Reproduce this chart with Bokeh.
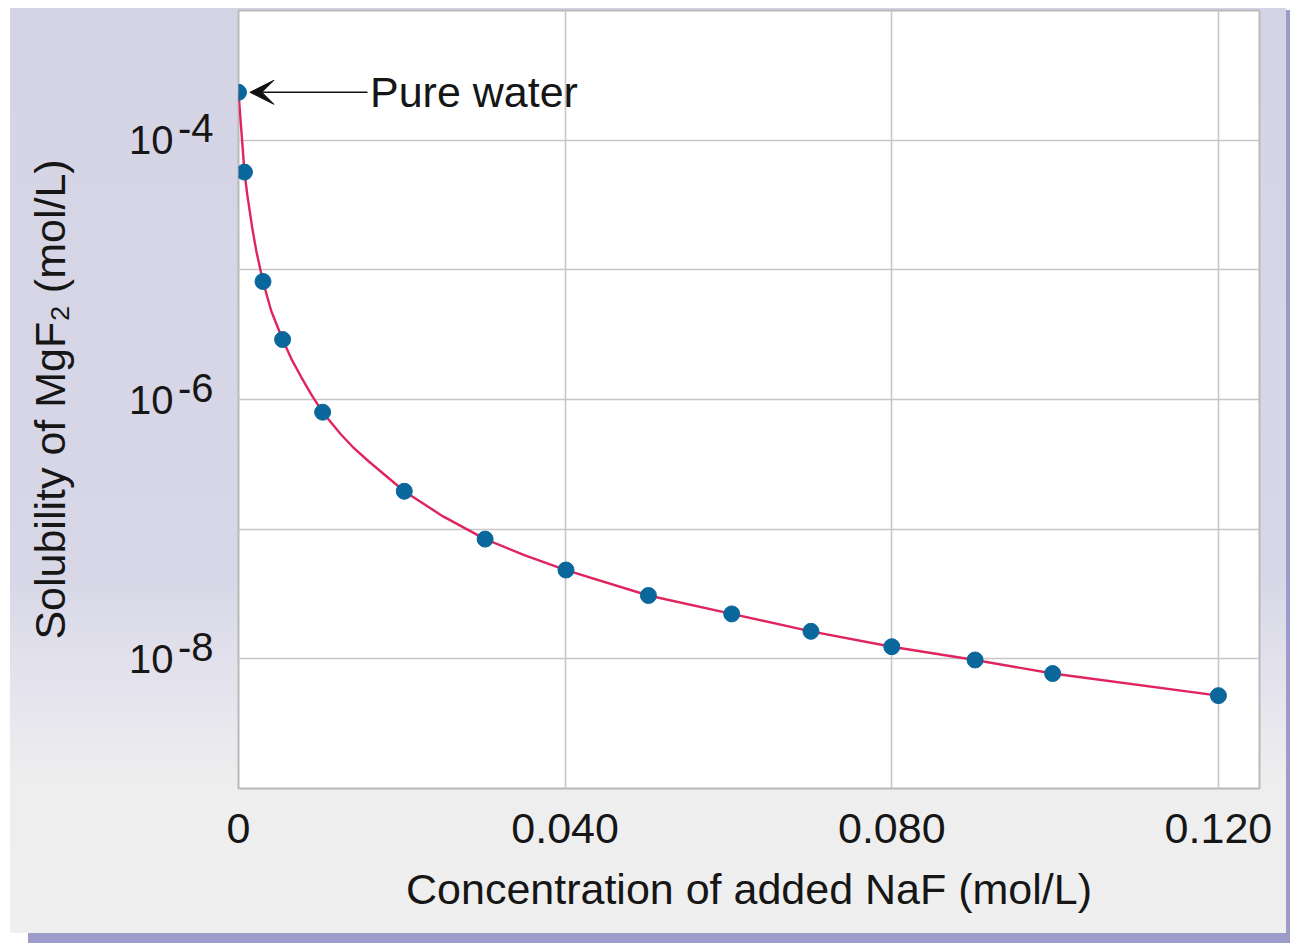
from bokeh.plotting import figure
from bokeh.models import (Range1d, FixedTicker, CustomJSTickFormatter, Label,
                          Arrow, VeeHead, LogAxis, LogScale)
from bokeh.embed import file_html
from bokeh.resources import INLINE

# ---- data ----
naf_conc = [0.0, 0.00073, 0.0030, 0.0054, 0.0103, 0.0203, 0.0302, 0.0401,
            0.0502, 0.0604, 0.0701, 0.0800, 0.0902, 0.0997, 0.1200]
solubility = [2.34e-4, 5.67e-5, 8.13e-6, 2.90e-6, 7.98e-7, 1.96e-7, 8.38e-8,
              4.84e-8, 3.08e-8, 2.22e-8, 1.63e-8, 1.24e-8, 9.8e-9, 7.7e-9,
              5.2e-9]

# smooth red curve (dots plus in-between readings)
curve_x = [0.0, 0.00073, 0.00107, 0.00168, 0.0022, 0.0030, 0.0040, 0.0054,
           0.0065, 0.00768, 0.0090, 0.0103, 0.0125, 0.0140, 0.0160, 0.0203,
           0.0250, 0.0302, 0.0350, 0.0401, 0.0502, 0.0604, 0.0701, 0.0800,
           0.0902, 0.0997, 0.1200]
curve_y = [2.34e-4, 5.67e-5, 3.82e-5, 2.11e-5, 1.38e-5, 8.13e-6, 4.84e-6,
           2.90e-6, 2.04e-6, 1.49e-6, 1.07e-6, 7.98e-7, 5.42e-7, 4.3e-7,
           3.31e-7, 1.96e-7, 1.26e-7, 8.38e-8, 6.3e-8, 4.84e-8, 3.08e-8,
           2.22e-8, 1.63e-8, 1.24e-8, 9.8e-9, 7.7e-9, 5.2e-9]

x_ticks = [0.0, 0.04, 0.08, 0.12]
y_grid = [1e-9, 1e-8, 1e-7, 1e-6, 1e-5, 1e-4, 1e-3]
y_label_ticks = [1e-8, 1e-6, 1e-4]

annotation_text = "Pure water"
arrow_x_start = 0.0158
arrow_x_end = 0.0014
text_x = 0.0161

FONT = "Liberation Sans"
TXT = "#161616"

Y_LO, Y_HI = 1e-9, 1e-3
# superscript axis: same decades, drawn 12 px higher (frame 778 px / 6 decades)
SUP_SHIFT = 10 ** (-12 / (778 / 6))

p = figure(width=1286, height=933,
           x_range=Range1d(0, 0.12503), y_range=Range1d(Y_LO, Y_HI),
           y_axis_type="log", output_backend="svg", toolbar_location=None,
           min_border_left=238, min_border_right=27,
           min_border_top=10, min_border_bottom=145)

p.border_fill_color = None
p.background_fill_color = "white"
p.outline_line_color = "#b9b9b9"
p.outline_line_width = 2
p.styles = {
    "background": "linear-gradient(to right, #ffffff 0px, #ffffff 10px, "
                  "rgba(255,255,255,0) 10px), "
                  "linear-gradient(to bottom, #ffffff 0px, #ffffff 8px, "
                  "rgba(255,255,255,0) 8px), "
                  "linear-gradient(to bottom, #d5d4e5 0%, #d8d7e7 62%, "
                  "#e6e5ee 75%, #eeeeee 84%, #efefef 100%)",
    "box-shadow": "28px 10px 0 0 #9d9bca",
}

# grids
p.xgrid.ticker = FixedTicker(ticks=x_ticks)
p.ygrid.ticker = FixedTicker(ticks=y_grid)
for g in (p.xgrid, p.ygrid):
    g.grid_line_color = "#c6c6c6"
    g.grid_line_width = 1.6

# x axis
xa = p.xaxis[0]
xa.ticker = FixedTicker(ticks=x_ticks)
xa.formatter = CustomJSTickFormatter(
    code="return tick == 0 ? '0' : tick.toFixed(3);")
xa.axis_line_color = None
xa.major_tick_line_color = None
xa.minor_tick_line_color = None
xa.major_tick_out = 0
xa.major_tick_in = 0
xa.major_label_text_font = FONT
xa.major_label_text_font_size = "43px"
xa.major_label_text_color = TXT
xa.major_label_standoff = 25
xa.axis_label = "Concentration of added NaF (mol/L)"
xa.axis_label_text_font = FONT
xa.axis_label_text_font_size = "43px"
xa.axis_label_text_font_style = "normal"
xa.axis_label_text_color = TXT
xa.axis_label_standoff = 19

# y axis: "10" labels + title (outer), exponents raised (inner)
ya = p.yaxis[0]
ya.ticker = FixedTicker(ticks=y_label_ticks)
ya.formatter = CustomJSTickFormatter(code="return '10';")
ya.axis_line_color = None
ya.major_tick_line_color = None
ya.minor_tick_line_color = None
ya.major_tick_out = 0
ya.major_tick_in = 0
ya.major_label_text_font = FONT
ya.major_label_text_font_size = "40px"
ya.major_label_text_color = TXT
ya.major_label_standoff = 1
ya.axis_label = "Solubility of MgF\u2082 (mol/L)"
ya.axis_label_text_font = FONT
ya.axis_label_text_font_size = "43px"
ya.axis_label_text_font_style = "normal"
ya.axis_label_text_color = TXT
ya.axis_label_standoff = 52

p.extra_y_ranges = {"sup": Range1d(Y_LO * SUP_SHIFT, Y_HI * SUP_SHIFT)}
p.extra_y_scales = {"sup": LogScale()}
sup = LogAxis(y_range_name="sup", ticker=FixedTicker(ticks=y_label_ticks),
              formatter=CustomJSTickFormatter(
                  code="return '-' + Math.round(-Math.log10(tick));"))
sup.axis_line_color = None
sup.major_tick_line_color = None
sup.minor_tick_line_color = None
sup.major_tick_out = 0
sup.major_tick_in = 0
sup.major_label_text_font = FONT
sup.major_label_text_font_size = "40px"
sup.major_label_text_color = TXT
sup.major_label_standoff = 25
p.left = [sup, ya]

# curve and points
p.line(curve_x, curve_y, line_color="#e0245e", line_width=2.4)
p.scatter(naf_conc, solubility, size=16, fill_color="#0a679c",
          line_color="#0a679c")

# annotation
p.add_layout(Arrow(end=VeeHead(size=24, fill_color="#111111",
                               line_color="#111111"),
                   x_start=arrow_x_start, y_start=solubility[0],
                   x_end=arrow_x_end, y_end=solubility[0],
                   line_color="#111111", line_width=1.5))
p.add_layout(Label(x=text_x, y=solubility[0], text=annotation_text,
                   text_align="left", text_baseline="middle",
                   text_font=FONT, text_font_size="43px", text_color=TXT))

open("out.html", "w").write(file_html(p, INLINE))
